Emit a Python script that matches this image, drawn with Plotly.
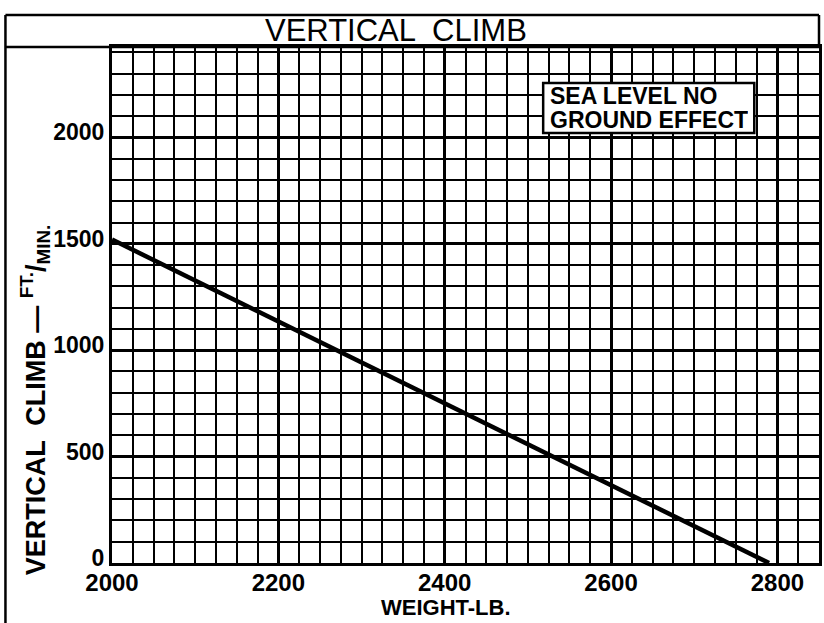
import plotly.graph_objects as go

# Data
weight_lb = [2000, 2790]
climb_fpm = [1520, 0]
x_ticks = [2000, 2200, 2400, 2600, 2800]
y_ticks = [0, 500, 1000, 1500, 2000]
title_text = "VERTICAL  CLIMB"
x_title = "WEIGHT-LB."
y_title = "VERTICAL  CLIMB \u2014 <sup>FT.</sup>/<sub>MIN.</sub>"
note_lines = ["SEA LEVEL NO", "GROUND EFFECT"]

FONT = "Liberation Sans, Arial, sans-serif"

fig = go.Figure()
fig.add_trace(go.Scatter(x=weight_lb, y=climb_fpm, mode="lines",
                         line=dict(color="black", width=4.5), showlegend=False,
                         hoverinfo="skip"))

L, R, T, B = 112, 2, 47, 60
W, H = 824, 623
pw, ph = W - L - R, H - T - B

def px_x(px):
    return (px - L) / pw

def px_y(py):
    return (H - B - py) / ph

fig.update_layout(
    width=W, height=H,
    margin=dict(l=L, r=R, t=T, b=B, pad=0),
    paper_bgcolor="white", plot_bgcolor="white",
    font=dict(family=FONT, color="black"),
    xaxis=dict(range=[2000, 2850], tickvals=x_ticks, ticktext=[str(v) for v in x_ticks],
               showgrid=True, gridcolor="black", gridwidth=2.5,
               minor=dict(dtick=25, tick0=2000, showgrid=True, gridcolor="black", gridwidth=1.6),
               showline=True, linecolor="black", linewidth=3, mirror=True,
               ticks="", tickfont=dict(size=24, family=FONT, weight="bold"),
               ticklabelstandoff=-4,
               zeroline=False, fixedrange=True),
    yaxis=dict(range=[0, 2425], tickvals=y_ticks, ticktext=[str(v) for v in y_ticks],
               showgrid=True, gridcolor="black", gridwidth=2.5,
               minor=dict(dtick=100, tick0=0, showgrid=True, gridcolor="black", gridwidth=1.6),
               showline=True, linecolor="black", linewidth=3, mirror=True,
               ticks="", tickfont=dict(size=23, family=FONT, weight="bold"),
               ticklabelstandoff=0, ticklabelshift=-5,
               zeroline=False, fixedrange=True),
)

# Outer frame lines (title box / left border)
fig.add_shape(type="line", xref="paper", yref="paper",
              x0=px_x(5), x1=1.0, y0=px_y(15), y1=px_y(15),
              line=dict(color="black", width=2.5))
fig.add_shape(type="line", xref="paper", yref="paper",
              x0=px_x(5), x1=1.0, y0=px_y(47), y1=px_y(47),
              line=dict(color="black", width=2.5))
fig.add_shape(type="line", xref="paper", yref="paper",
              x0=px_x(5), x1=px_x(5), y0=px_y(15), y1=px_y(623),
              line=dict(color="black", width=2.5))
fig.add_shape(type="line", xref="paper", yref="paper",
              x0=px_x(822), x1=px_x(822), y0=px_y(15), y1=px_y(47),
              line=dict(color="black", width=2.5))

# Title
fig.add_annotation(text=title_text, xref="paper", yref="paper",
                   x=px_x(397), y=px_y(31), xanchor="center", yanchor="middle",
                   showarrow=False, font=dict(size=31, family=FONT, color="black"))

# X title
fig.add_annotation(text=x_title, xref="paper", yref="paper",
                   x=px_x(447), y=px_y(607), xanchor="center", yanchor="middle",
                   showarrow=False, font=dict(size=22, family=FONT, color="black", weight="bold"))

# Y title
fig.add_annotation(text=y_title, xref="paper", yref="paper",
                   x=px_x(35), y=px_y(400), xanchor="center", yanchor="middle",
                   textangle=-90, showarrow=False,
                   font=dict(size=27, family=FONT, color="black", weight="bold"))

# Note box
fig.add_shape(type="rect", xref="paper", yref="paper", layer="above",
              x0=px_x(545), x1=px_x(757), y0=px_y(83), y1=px_y(133),
              fillcolor="white", line=dict(color="black", width=2.5))
for i, line_txt in enumerate(note_lines):
    fig.add_annotation(text=line_txt, xref="paper", yref="paper",
                       x=px_x(550), y=px_y(96 + 24 * i), xanchor="left", yanchor="middle",
                       align="left", showarrow=False, height=22, valign="middle",
                       font=dict(size=23, family=FONT, color="black", weight="bold"))

fig.write_html("out.html", config={"displayModeBar": False},
               post_script="document.body.style.margin='0';")
